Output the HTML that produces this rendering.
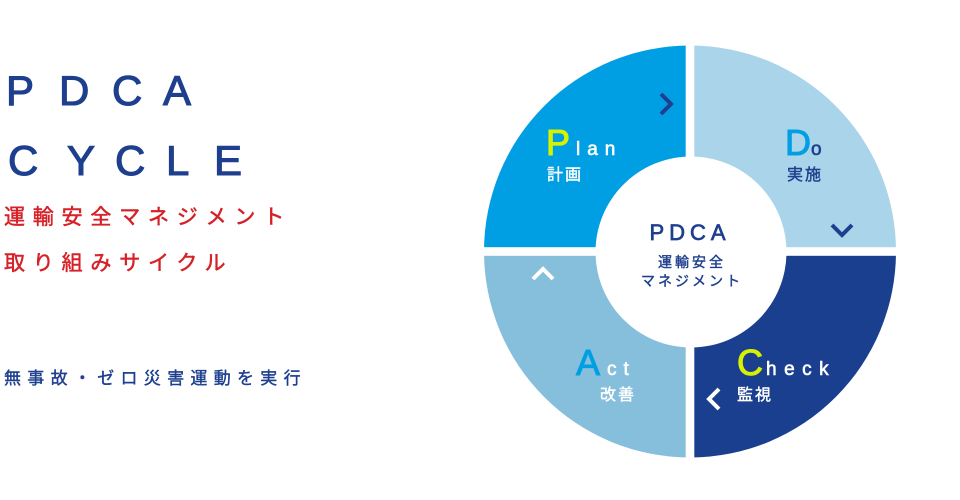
<!DOCTYPE html>
<html><head><meta charset="utf-8"><style>
html,body{margin:0;padding:0;background:#fff;width:960px;height:500px;overflow:hidden}
svg{display:block}
text{font-family:"Liberation Sans","Noto Sans CJK JP",sans-serif}
</style></head><body>
<svg width="960" height="500" viewBox="0 0 960 500" xmlns="http://www.w3.org/2000/svg">
<!-- left titles -->
<g fill="#1e3f8e" stroke="#1e3f8e" stroke-width="1.1" font-size="42">
<text x="6" y="105">P</text><text x="59" y="105">D</text><text x="112" y="105">C</text><text x="163" y="105">A</text>
<text x="8" y="175">C</text><text x="67" y="175">Y</text><text x="115" y="175">C</text><text x="166" y="175">L</text><text x="214" y="175">E</text>
</g>
<g fill="#d52128" stroke="#d52128" stroke-width="0.5" font-size="21" letter-spacing="7.8">
<text x="4" y="224">運輸安全マネジメント</text>
<text x="4" y="270">取り組みサイクル</text>
</g>
<text x="4" y="384" fill="#1e3f8e" stroke="#1e3f8e" stroke-width="0.4" font-size="17" letter-spacing="6.3">無事故・ゼロ災害運動を実行</text>

<!-- circle -->
<path d="M690 251.5 L690 45.5 A206 206 0 0 0 484 251.5 Z" fill="#009fe3"/>
<path d="M690 251.5 L896 251.5 A206 206 0 0 0 690 45.5 Z" fill="#a9d4ea"/>
<path d="M690 251.5 L690 457.5 A206 206 0 0 0 896 251.5 Z" fill="#1b3f8f"/>
<path d="M690 251.5 L484 251.5 A206 206 0 0 0 690 457.5 Z" fill="#86bfdc"/>
<rect x="685.7" y="40" width="8.6" height="425" fill="#fff"/>
<rect x="480" y="247.2" width="425" height="8.6" fill="#fff"/>
<circle cx="691" cy="252" r="95.5" fill="#fff"/>

<!-- center text -->
<g fill="#1e3f8e" stroke="#1e3f8e">
<text x="690" y="240" text-anchor="middle" font-size="22" letter-spacing="5" stroke-width="0.7">PDCA</text>
<text x="692" y="267" text-anchor="middle" font-size="14" letter-spacing="3" stroke-width="0.4">運輸安全</text>
<text x="692" y="286" text-anchor="middle" font-size="14" letter-spacing="3" stroke-width="0.4">マネジメント</text>
</g>

<!-- Plan -->
<text x="546" y="155" fill="#d7f200" stroke="#d7f200" stroke-width="1" font-size="36">P</text>
<text x="576" y="155" fill="#fff" stroke="#fff" stroke-width="0.6" font-size="19" letter-spacing="7">lan</text>
<text x="547" y="180" fill="#fff" stroke="#fff" stroke-width="0.4" font-size="16" letter-spacing="2">計画</text>
<polyline points="661,94 671,104 661,114" fill="none" stroke="#1e3f8e" stroke-width="4"/>
<!-- Do -->
<text x="785" y="155" fill="#009fe3" stroke="#009fe3" stroke-width="1" font-size="36">D</text>
<text x="811" y="155" fill="#1e3f8e" stroke="#1e3f8e" stroke-width="0.6" font-size="19">o</text>
<text x="787" y="180" fill="#1e3f8e" stroke="#1e3f8e" stroke-width="0.4" font-size="16" letter-spacing="2">実施</text>
<polyline points="832,225 842,235 852,225" fill="none" stroke="#1e3f8e" stroke-width="4"/>
<!-- Check -->
<text x="737" y="375" fill="#d7f200" stroke="#d7f200" stroke-width="1" font-size="36">C</text>
<text x="766" y="375" fill="#fff" stroke="#fff" stroke-width="0.6" font-size="19" letter-spacing="7.5">heck</text>
<text x="737" y="400" fill="#fff" stroke="#fff" stroke-width="0.4" font-size="16" letter-spacing="2">監視</text>
<polyline points="719,389 709,399 719,409" fill="none" stroke="#fff" stroke-width="4"/>
<!-- Act -->
<text x="576" y="375" fill="#009fe3" stroke="#009fe3" stroke-width="1" font-size="36">A</text>
<text x="607" y="375" fill="#fff" stroke="#fff" stroke-width="0.6" font-size="19" letter-spacing="7">ct</text>
<text x="600" y="400" fill="#fff" stroke="#fff" stroke-width="0.4" font-size="16" letter-spacing="2">改善</text>
<polyline points="533,279 543,269 553,279" fill="none" stroke="#fff" stroke-width="4"/>
</svg>
</body></html>
